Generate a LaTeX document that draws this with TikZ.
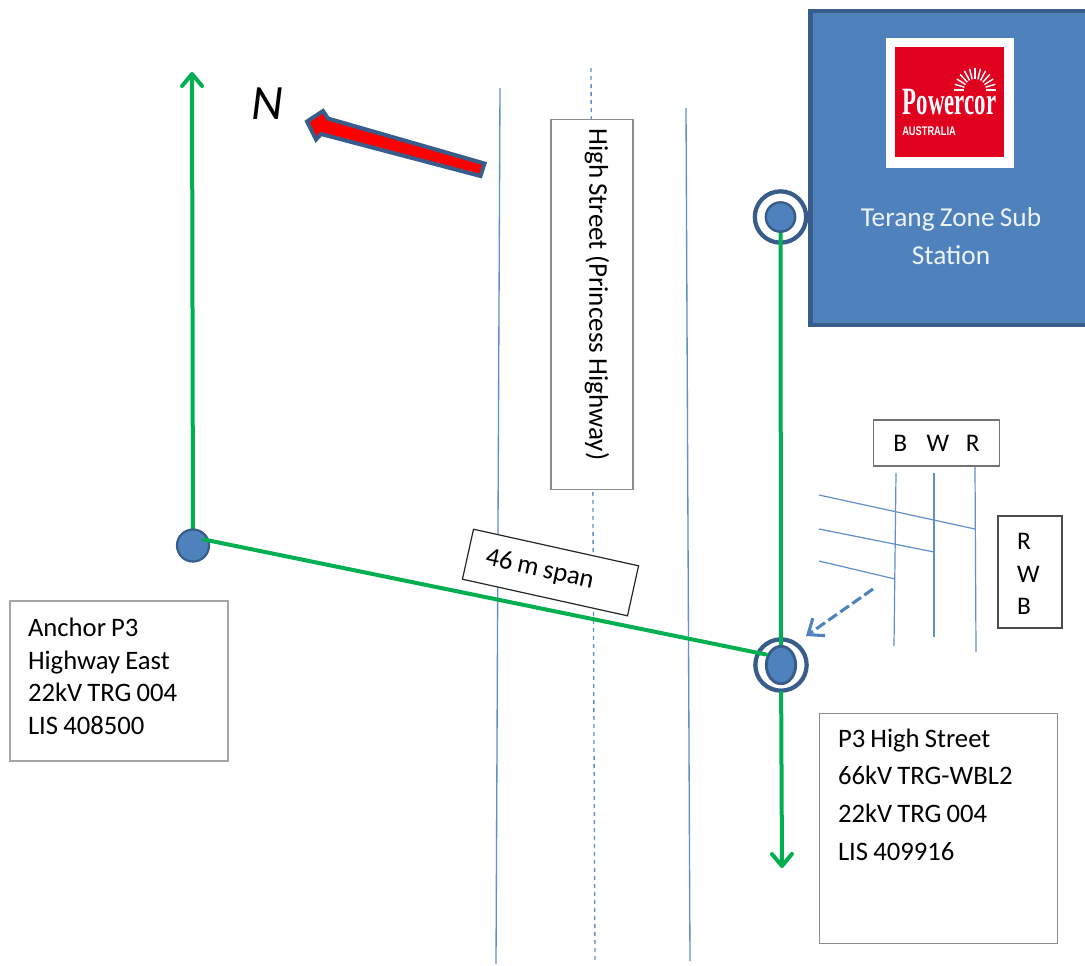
\documentclass[tikz,border=0pt]{standalone}
\usepackage{fontspec}
\setmainfont[WordSpace=0.85]{Carlito}
\newfontfamily\logoserif{Liberation Serif}
\newfontfamily\logosans{Liberation Sans}
\usetikzlibrary{positioning,arrows.meta}
\definecolor{roadblue}{HTML}{5F8FCC}
\definecolor{polefill}{HTML}{4F81BD}
\definecolor{poleline}{HTML}{385D8A}
\definecolor{linegreen}{HTML}{00B050}
\definecolor{logored}{HTML}{E2001F}

\begin{document}
\begin{tikzpicture}[x=.75pt,y=-.75pt]
\tikzstyle{road}=[draw=roadblue, line width=1pt]
\tikzstyle{wire}=[draw=roadblue, line width=.9pt]
\tikzstyle{span}=[draw=linegreen, line width=3pt, line cap=round]
\tikzstyle{spanarrow}=[span, -{Straight Barb[length=9pt,width=15pt,line width=3pt,round]}]
\tikzstyle{infobox}=[draw=black!45, fill=white, line width=.8pt, inner sep=0pt, font=\fontsize{20}{24.3}\selectfont]
\tikzstyle{phasebox}=[draw=black!55, fill=white, line width=.8pt, inner sep=0pt, font=\fontsize{19}{24.4}\selectfont]
\tikzstyle{ring}=[circle, draw=poleline, line width=3.2pt, fill=white, inner sep=0pt, minimum size=38.5pt]
\useasboundingbox (0,0) rectangle (1085,965);

% road edges and centre line
\coordinate (roadAtop) at (500,88);
\coordinate (roadAbot) at (496,964);
\coordinate (roadBtop) at (686,108);
\coordinate (roadBbot) at (690,961);
\coordinate (centretop) at (591,68);
\coordinate (centrebot) at (595,962);
\draw[road] (roadAtop)--(roadAbot);
\draw[road] (roadBtop)--(roadBbot);
\draw[road, dashed] (centretop)--(centrebot);
\node[draw=black!45, fill=white, line width=.8pt, minimum width=61.5pt, minimum height=278pt, inner sep=0pt] (street) at (592,304.5) {};
\node[rotate=-90, anchor=west, font=\fontsize{20.3}{24}\selectfont, inner sep=0pt] (streetname) at (597,128) {High Street (Princess Highway)};

% substation
\node[draw=poleline, fill=polefill, line width=3.2pt, minimum width=210.75pt, minimum height=236pt, inner sep=0pt] (station) at (951,168) {};
\node[fill=white, minimum width=96pt, minimum height=97.5pt, inner sep=0pt] (logo) at (950,103) {};
\node[fill=logored, minimum width=82pt, minimum height=82.5pt, inner sep=0pt] (logobox) at (949.5,102) {};
\foreach \ang in {0,15,...,180} \draw[white, line width=1.1pt] (975,90)+(-\ang:11 and 11)--+(-\ang:21 and 22);
\node[white, inner sep=0pt, font=\logoserif\bfseries\fontsize{29}{29}\selectfont] (powercor) at (949.5,102) {\scalebox{.59}[1]{Powercor}};
\node[white, inner sep=0pt, anchor=west, font=\logosans\bfseries\fontsize{9.4}{10}\selectfont] (australia) at (902,131.5) {\scalebox{.74}[1]{AUSTRALIA}};
\node[text=white!90!polefill, align=center, font=\fontsize{20.5}{28.5}\selectfont, inner sep=0pt] (stationname) at (951,236) {Terang Zone Sub\\Station};

% spans between poles
\coordinate (northend) at (192,72);
\coordinate (southend) at (782,868);
\coordinate (spanstart) at (204,539.5);
\coordinate (spanend) at (766,654.5);
\node[circle, draw=poleline, line width=1.2pt, fill=polefill, inner sep=0pt, minimum size=24pt] (anchorpole) at (193,545.5) {};
\node[ring] (stationring) at (780.5,217) {};
\node[ring] (mainring) at (781,665) {};
\draw[span] (stationring.center)--(mainring.center);
\draw[spanarrow] (anchorpole)--(northend);
\draw[spanarrow] (mainring)--(southend);
\fill[polefill, draw=poleline, line width=1.6pt] (anchorpole) circle (12pt);
\fill[polefill, draw=poleline, line width=1.8pt] (stationring) circle (11pt);
\fill[polefill, draw=poleline, line width=2.2pt] (mainring) ellipse (11pt and 14pt);
\draw[span] (spanstart)--(spanend);

% north arrow
\coordinate (tailA) at (484.5,163.5);
\coordinate (tailB) at (480.5,176);
\coordinate (neckA) at (328,118.5);
\coordinate (neckB) at (321,134);
\coordinate (barbA) at (323,111);
\coordinate (barbB) at (316,139.5);
\coordinate (tip) at (307,121.5);
\draw[fill=red, draw=poleline, line width=3pt, line join=miter] (tailA)--(neckA)--(barbA)--(tip)--(barbB)--(neckB)--(tailB)--cycle;
\node[font=\itshape\fontsize{37}{37}\selectfont, inner sep=0pt] (northlabel) at (267,104) {N};

% span label
\node[draw=black!85, fill=white, line width=.9pt, rotate=-12.5, minimum width=126.8pt, minimum height=38.4pt, inner sep=0pt, text width=98.8pt, align=flush left, font=\fontsize{20}{22}\selectfont] (spanlabel) at (550.5,572.5) {46 m span};

% info boxes
\node[infobox, draw=black!35, line width=1.1pt, minimum width=163.5pt, minimum height=120pt] (anchorbox) at (119,681) {\parbox[c][120pt][t]{136.5pt}{\vspace*{13pt}Anchor P3\\Highway East\\22kV TRG 004\\LIS 408500}};
\node[infobox, minimum width=178pt, minimum height=173pt, font=\fontsize{20}{28.2}\selectfont] (mainbox) at (938.5,828.5) {\parbox[c][173pt][t]{150.75pt}{\vspace*{11.7pt}P3 High Street\\66kV TRG-WBL2\\22kV TRG 004\\LIS 409916}};

% phase order
\node[phasebox, minimum width=95pt, minimum height=34.5pt] (phasetop) at (936.5,443) {\raisebox{-2.25pt}{B\hspace{14.5pt}W\hspace{12.5pt}R}};
\node[phasebox, draw=black!70, minimum width=48pt, minimum height=84pt] (phaseside) at (1030,572) {\parbox[c][84pt][t]{19.5pt}{\vspace*{13pt}R\\W\\B}};
\coordinate (Btop) at (896,473);
\coordinate (Bbot) at (894,646);
\coordinate (Wtop) at (934,473);
\coordinate (Wbot) at (934,637);
\coordinate (Rbot) at (976,652);
\coordinate (Rjoin) at (975,529);
\coordinate (Wjoin) at (934,552);
\coordinate (Bjoin) at (895,579);
\coordinate (Rfree) at (819,495);
\coordinate (Wfree) at (819,529);
\coordinate (Bfree) at (819,561);
\coordinate (Rtop) at (phasetop.south -| Rjoin);
\draw[wire] (Btop)--(Bbot);
\draw[wire] (Wtop)--(Wbot);
\draw[wire] (Rtop)--(Rbot);
\draw[wire] (Rfree)--(Rjoin);
\draw[wire] (Wfree)--(Wjoin);
\draw[wire] (Bfree)--(Bjoin);
\coordinate (dashstart) at (873,589);
\coordinate (dashend) at (806,636);
\draw[draw=polefill, line width=2.3pt, dash pattern=on 8pt off 3pt, -{Straight Barb[length=10pt,width=16pt,line width=2.3pt]}] (dashstart)--(dashend);
\end{tikzpicture}
\end{document}
